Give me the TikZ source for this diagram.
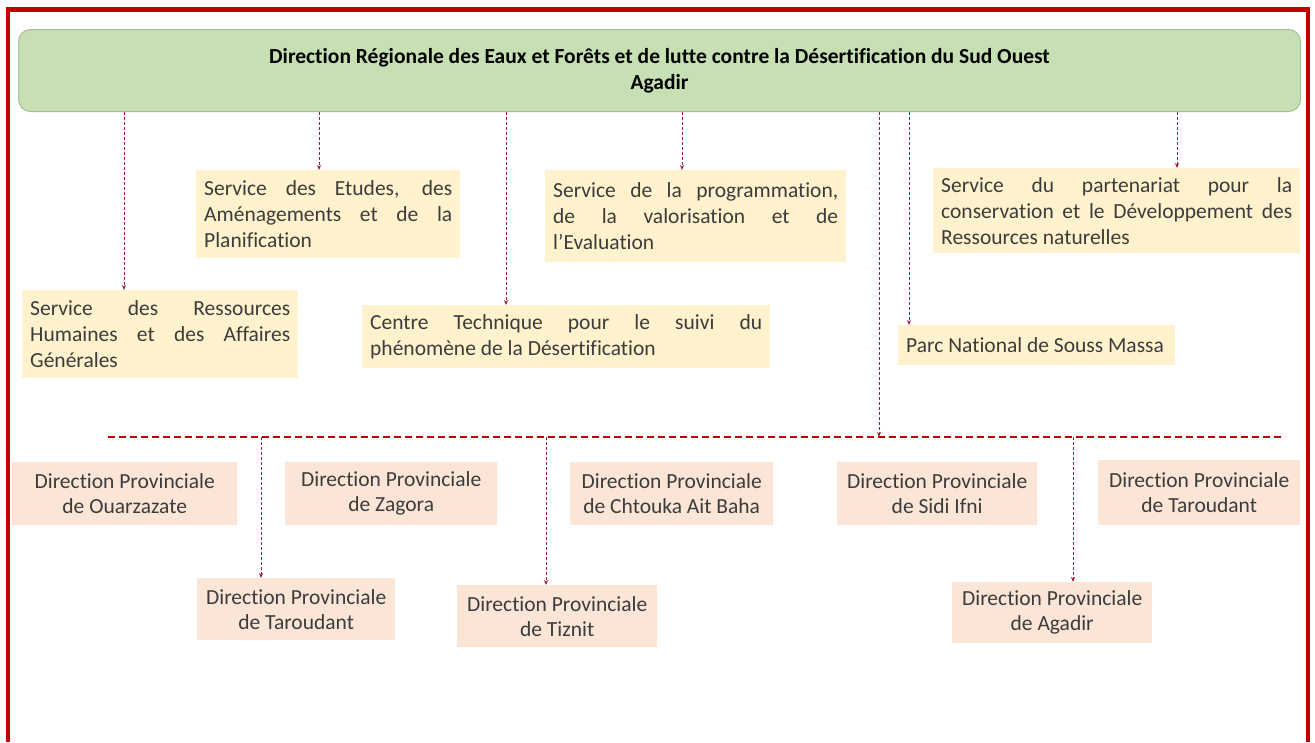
\documentclass[tikz,border=0pt]{standalone}
\usepackage{fontspec}
\setmainfont{Carlito}[Ligatures=NoCommon]
\usetikzlibrary{arrows.meta}
\definecolor{framered}{HTML}{C00000}
\definecolor{boxgreen}{HTML}{C6E0B4}
\definecolor{greenedge}{HTML}{A9BF9B}
\definecolor{svc}{HTML}{FFF2CC}
\definecolor{prov}{HTML}{FBE5D6}
\definecolor{linkred}{HTML}{A01E3C}
\definecolor{txt}{HTML}{3C3C3C}
\begin{document}
\begin{tikzpicture}[x=1pt,y=-1pt,
  svcbox/.style={fill=svc, inner xsep=8pt, inner ysep=3pt, align=justify, anchor=north west,
    font=\fontsize{21.5}{26}\selectfont, text=txt},
  provbox/.style={fill=prov, inner sep=3pt, align=center, anchor=north west,
    font=\fontsize{21.5}{25}\selectfont, text=txt},
  conn/.style={draw=linkred, line width=1pt, dash pattern=on 3pt off 2pt,
    -{Stealth[length=5pt,width=4pt]}},
  busline/.style={draw=framered, line width=2.5pt, dash pattern=on 7pt off 4pt},
]
\useasboundingbox (0,0) rectangle (1315,742);
\fill[white] (0,0) rectangle (1315,742);
% frame
\draw[framered, line width=4.5pt] (8,742) -- (8,9.5) -- (1308,9.5) -- (1308,742);

% top box
\node[draw=greenedge, line width=1pt, fill=boxgreen, rounded corners=12pt, minimum width=1282pt,
  minimum height=82pt, anchor=north west, align=center,
  font=\fontsize{21.5}{26}\selectfont\bfseries, text=black] (top) at (18,29)
  {Direction Régionale des Eaux et Forêts et de lutte contre la Désertification du Sud Ouest\\Agadir};

% service boxes
\node[svcbox, text width=260pt, minimum height=88pt] (hr) at (22,290)
  {Service des Ressources\linebreak Humaines et des Affaires\linebreak Générales};
\node[svcbox, text width=248pt, minimum height=88pt] (etu) at (196,170)
  {Service des Etudes, des\linebreak Aménagements et de la\linebreak Planification};
\node[svcbox, text width=392pt, minimum height=63pt] (ctr) at (362,305)
  {Centre Technique pour le suivi du\linebreak phénomène de la Désertification};
\node[svcbox, text width=285pt, minimum height=92pt] (prg) at (545,170)
  {Service de la programmation,\linebreak de la valorisation et de\linebreak l’Evaluation};
\node[svcbox, text width=351pt, minimum height=85pt] (par) at (933,168)
  {Service du partenariat pour la\linebreak conservation et le Développement des\linebreak Ressources naturelles};
\node[svcbox, text width=261pt, minimum height=40pt] (pnsm) at (898,325)
  {Parc National de Souss Massa};

% provincial boxes
\node[provbox, minimum width=225pt, minimum height=63pt] (ouz) at (12,462) {Direction Provinciale\\de Ouarzazate};
\node[provbox, minimum width=212pt, minimum height=63pt] (zag) at (285,462) {Direction Provinciale\\de Zagora};
\node[provbox, minimum width=203pt, minimum height=63pt] (cht) at (570,462) {Direction Provinciale\\de Chtouka Ait Baha};
\node[provbox, minimum width=200pt, minimum height=63pt] (sif) at (837,462) {Direction Provinciale\\de Sidi Ifni};
\node[provbox, minimum width=202pt, minimum height=65pt] (tarR) at (1098,460) {Direction Provinciale\\de Taroudant};
\node[provbox, minimum width=198pt, minimum height=62pt] (tarL) at (197,578) {Direction Provinciale\\de Taroudant};
\node[provbox, minimum width=200pt, minimum height=62pt] (tiz) at (457,585) {Direction Provinciale\\de Tiznit};
\node[provbox, minimum width=200pt, minimum height=61pt] (aga) at (952,582) {Direction Provinciale\\de Agadir};

% connector anchor points
\coordinate (x1) at (124,0);
\coordinate (x2) at (319,0);
\coordinate (x3) at (506,0);
\coordinate (x4) at (682,0);
\coordinate (x6) at (909,0);
\coordinate (x7) at (1177,0);
\coordinate (busL) at (108,437);
\coordinate (busR) at (1285,437);
\coordinate (j5) at (879,437);
\coordinate (j6) at (261,437);
\coordinate (j7) at (546,437);
\coordinate (j8) at (1073,437);

\draw[conn] (top.south -| x1) -- (hr.north -| x1);
\draw[conn] (top.south -| x2) -- (etu.north -| x2);
\draw[conn] (top.south -| x3) -- (ctr.north -| x3);
\draw[conn] (top.south -| x4) -- (prg.north -| x4);
\draw[conn] (top.south -| x6) -- (pnsm.north -| x6);
\draw[conn] (top.south -| x7) -- (par.north -| x7);
\draw[conn] (top.south -| j5) -- (j5);

\draw[busline] (busL) -- (busR);

\draw[conn] (j6) -- (tarL.north -| j6);
\draw[conn] (j7) -- (tiz.north -| j7);
\draw[conn] (j8) -- (aga.north -| j8);
\end{tikzpicture}
\end{document}
